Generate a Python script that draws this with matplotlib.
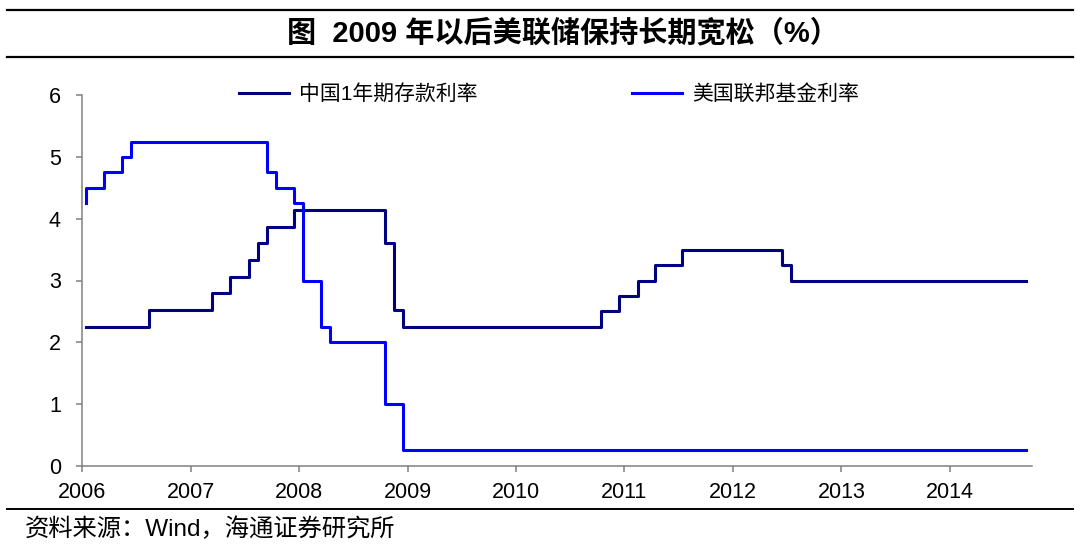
import matplotlib
matplotlib.use('Agg')
import matplotlib.pyplot as plt
import matplotlib.dates as mdates
import pandas as pd
from matplotlib.lines import Line2D

plt.rcParams['font.family'] = ['Liberation Sans', 'Noto Sans CJK SC', 'DejaVu Sans']

title = '图  2009 年以后美联储保持长期宽松（%）'
source = '资料来源：Wind，海通证券研究所'
series_names = ['中国1年期存款利率', '美国联邦基金利率']

# China 1-year deposit rate: months where the rate changes (monthly data) and the new rate
cn_months = ['2006-01', '2006-08', '2007-03', '2007-05', '2007-07', '2007-08', '2007-09',
             '2007-12', '2008-10', '2008-11', '2008-12', '2010-10', '2010-12', '2011-02',
             '2011-04', '2011-07', '2012-06', '2012-07', '2014-09']
cn_rates = [2.25, 2.52, 2.79, 3.06, 3.33, 3.60, 3.87,
            4.14, 3.60, 2.52, 2.25, 2.50, 2.75, 3.00,
            3.25, 3.50, 3.25, 3.00, 3.00]

# US federal funds target rate
fed_months = ['2006-01', '2006-01', '2006-03', '2006-05', '2006-06', '2007-09', '2007-10',
              '2007-12', '2008-01', '2008-03', '2008-04', '2008-10', '2008-12', '2014-09']
fed_rates = [4.25, 4.50, 4.75, 5.00, 5.25, 4.75, 4.50,
             4.25, 3.00, 2.25, 2.00, 1.00, 0.25, 0.25]

y_ticks = [0, 1, 2, 3, 4, 5, 6]


def to_dates(months):
    return pd.to_datetime([m + '-15' for m in months])


fig = plt.figure(figsize=(10.8, 5.49), dpi=100)
ax = fig.add_axes([82.3 / 1080, 1 - 465.7 / 549, (1032 - 82.3) / 1080, (465.7 - 95.3) / 549])

ax.plot(to_dates(cn_months), cn_rates, drawstyle='steps-post', color='#000080', lw=2.2,
        label=series_names[0])
ax.plot(to_dates(fed_months), fed_rates, drawstyle='steps-post', color='#0000FF', lw=2.2,
        label=series_names[1])

ax.set_ylim(0, 6)
ax.set_yticks(y_ticks)
ax.set_xlim(pd.Timestamp('2006-01-01'), pd.Timestamp('2014-10-05'))
ax.xaxis.set_major_locator(mdates.YearLocator())
ax.xaxis.set_major_formatter(mdates.DateFormatter('%Y'))

for s in ['top', 'right']:
    ax.spines[s].set_visible(False)
for s in ['left', 'bottom']:
    ax.spines[s].set_color('#808080')
    ax.spines[s].set_linewidth(1.1)

ax.tick_params(axis='both', direction='out', length=4.5, width=1.1, color='#808080',
               labelsize=15.5, labelcolor='black')
ax.tick_params(axis='y', pad=11)
ax.tick_params(axis='x', pad=7)

ax.legend(ncol=2, loc='center', bbox_to_anchor=(549 / 1080, 1 - 94 / 549),
          bbox_transform=fig.transFigure, frameon=False, fontsize=15,
          handlelength=2.4, handletextpad=0.5, columnspacing=7.4,
          borderpad=0, borderaxespad=0)

fig.text(563 / 1080, 1 - 33 / 549, title, ha='center', va='center', fontsize=21,
         fontweight='bold')
fig.add_artist(Line2D([7 / 1080, 1073 / 1080], [1 - 10 / 549] * 2, color='black', lw=1.6))
fig.add_artist(Line2D([7 / 1080, 1073 / 1080], [1 - 57.3 / 549] * 2, color='black', lw=1.6))
fig.add_artist(Line2D([7 / 1080, 1073 / 1080], [1 - 509.3 / 549] * 2, color='black', lw=1.4))

fig.text(25 / 1080, 1 - 529 / 549, source, ha='left', va='center', fontsize=17.5)

fig.savefig('out.png', dpi=100)
